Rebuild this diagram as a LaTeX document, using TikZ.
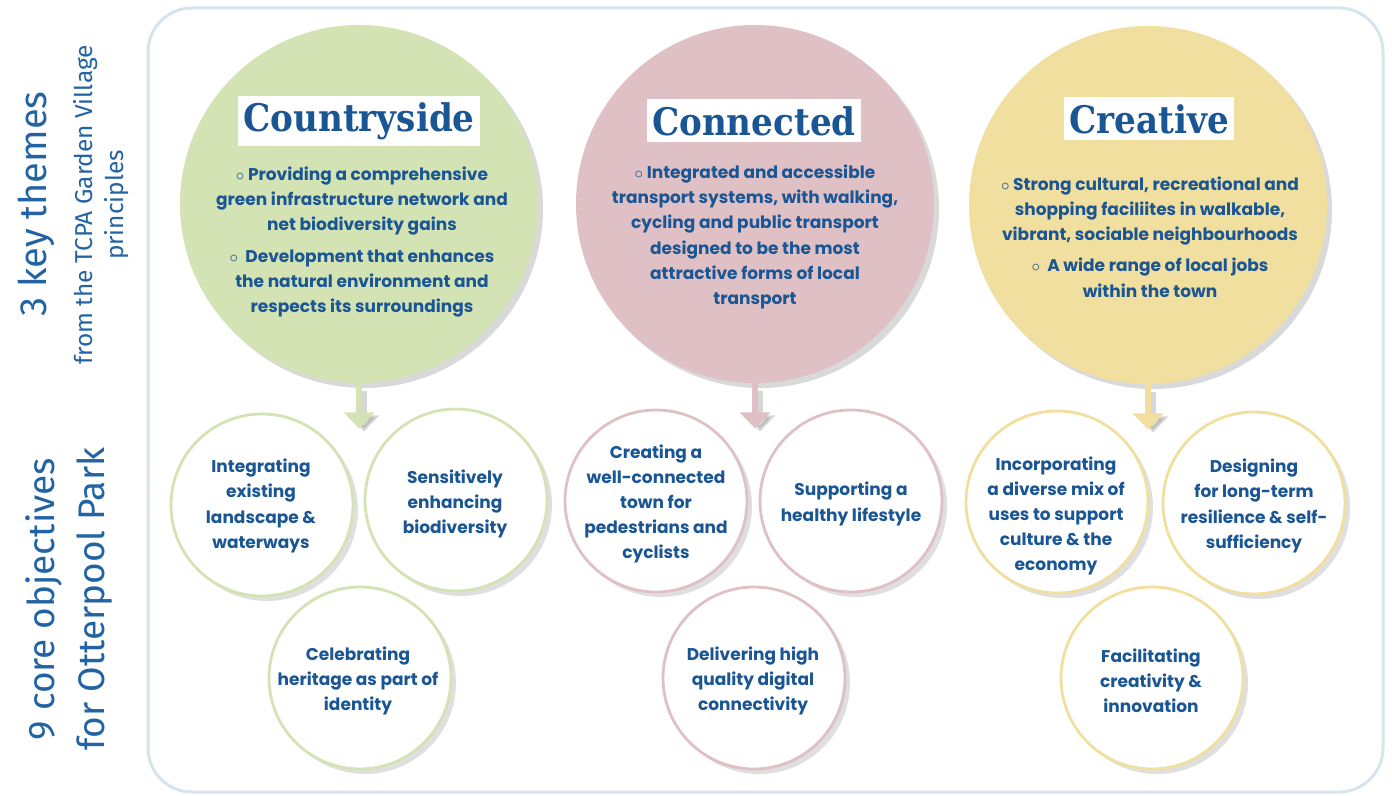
\documentclass[tikz,border=0pt]{standalone}
\usepackage{fontspec}
\usetikzlibrary{shadows,arrows.meta}
\setmainfont{Poppins}
\newfontfamily\titlefont[FakeStretch=0.9]{DejaVu Serif}
\newfontfamily\sidefont{Fira Sans}

\definecolor{ccgreen}{HTML}{D4E3B4}
\definecolor{ccpink}{HTML}{DFC1C5}
\definecolor{ccyellow}{HTML}{F0DF9E}
\definecolor{cctext}{HTML}{1A5594}
\definecolor{ccside}{HTML}{2263A3}
\definecolor{ccframe}{HTML}{D6E4EC}

\begin{document}
\begin{tikzpicture}[x=0.5pt,y=-0.5pt,
    theme/.style={circle,minimum size=179pt,inner sep=0pt,fill=#1,
      drop shadow={shadow xshift=2.5pt,shadow yshift=-2.5pt,opacity=.3}},
    objective/.style={circle,minimum size=91pt,inner sep=0pt,draw=#1,line width=1.4pt,fill=white,
      drop shadow={shadow xshift=2.5pt,shadow yshift=-2.5pt,opacity=.25}},
    themetitle/.style={fill=white,text=cctext,inner xsep=2.5pt,minimum height=21.5pt,
      font=\titlefont\bfseries\fontsize{19}{21}\selectfont},
    bodytext/.style={text=cctext,align=center,inner sep=0pt,
      font=\bfseries\fontsize{8.5}{12.6}\selectfont},
    pointer/.style={draw=#1,line width=3pt,-{Triangle[width=15pt,length=8pt]}},
    sidetext/.style={rotate=90,text=ccside,align=center,inner sep=0pt}]
  \useasboundingbox (0,0) rectangle (1392,796);
  \draw [ccframe,line width=1.5pt,rounded corners=22pt] (148,8) rectangle (1383,792);

  % side headings
  \node [sidetext,font=\sidefont\fontsize{19}{22}\selectfont] (themes) at (36,204) {3 key themes};
  \node [sidetext,font=\sidefont\fontsize{12.2}{15.5}\selectfont] (themesnote) at (101,205) {from the TCPA Garden Village\\principles};
  \node [sidetext,font=\sidefont\fontsize{18.5}{25}\selectfont] (objectives) at (69,599) {9 core objectives\\for Otterpool Park};

  % themes
  \node [theme=ccgreen] (cs) at (359,204) {};
  \node [theme=ccpink] (cn) at (755,204) {};
  \node [theme=ccyellow] (cr) at (1148,205) {};
  \node [themetitle] (cs-title) at (359,121) {Countryside};
  \node [themetitle] (cn-title) at (754,121) {Connected};
  \node [themetitle] (cr-title) at (1149,119) {Creative};
  \node [bodytext] (cs-list) at (362,242) {$\circ$\ Providing a comprehensive\\green infrastructure network and\\net biodiversity gains\\[3pt]$\circ$\ \ Development that enhances\\the natural environment and\\respects its surroundings};
  \node [bodytext] (cn-list) at (755,237) {$\circ$\ Integrated and accessible\\transport systems, with walking,\\cycling and public transport\\designed to be the most\\attractive forms of local\\transport};
  \node [bodytext] (cr-list) at (1150,237) {$\circ$\ Strong cultural, recreational and\\shopping faciliites in walkable,\\vibrant, sociable neighbourhoods\\[3pt]$\circ$\ \ A wide range of local jobs\\within the town};

  % arrows
  \draw [pointer=black!45,opacity=.35] ([shift={(5,8)}]cs.south) -- ++(0,40);
  \draw [pointer=black!45,opacity=.35] ([shift={(5,8)}]cn.south) -- ++(0,40);
  \draw [pointer=black!45,opacity=.35] ([shift={(5,8)}]cr.south) -- ++(0,40);
  \draw [pointer=ccgreen] (cs.south) -- ++(0,45);
  \draw [pointer=ccpink] (cn.south) -- ++(0,45);
  \draw [pointer=ccyellow] (cr.south) -- ++(0,45);

  % objectives
  \node [objective=ccgreen] (ob1) at (262,505) {};
  \node [objective=ccgreen] (ob2) at (456,500) {};
  \node [objective=ccgreen] (ob3) at (360,678) {};
  \node [objective=ccpink] (ob4) at (656,501) {};
  \node [objective=ccpink] (ob5) at (851,501) {};
  \node [objective=ccpink] (ob6) at (754,678) {};
  \node [objective=ccyellow] (ob7) at (1057,502) {};
  \node [objective=ccyellow] (ob8) at (1254,503) {};
  \node [objective=ccyellow] (ob9) at (1152,678) {};
  \node [bodytext] (ob1-text) at (261,506) {Integrating\\existing\\landscape \&\\waterways};
  \node [bodytext] (ob2-text) at (455,504) {Sensitively\\enhancing\\biodiversity};
  \node [bodytext] (ob3-text) at (358,681) {Celebrating\\heritage as part of\\identity};
  \node [bodytext] (ob4-text) at (656,504) {Creating a\\well-connected\\town for\\pedestrians and\\cyclists};
  \node [bodytext] (ob5-text) at (851,504) {Supporting a\\healthy lifestyle};
  \node [bodytext] (ob6-text) at (753,681) {Delivering high\\quality digital\\connectivity};
  \node [bodytext] (ob7-text) at (1056,516) {Incorporating\\a diverse mix of\\uses to support\\culture \& the\\economy};
  \node [bodytext] (ob8-text) at (1254,506) {Designing\\for long-term\\resilience \& self-\\sufficiency};
  \node [bodytext] (ob9-text) at (1151,681) {Facilitating\\creativity \&\\innovation};
\end{tikzpicture}
\end{document}
